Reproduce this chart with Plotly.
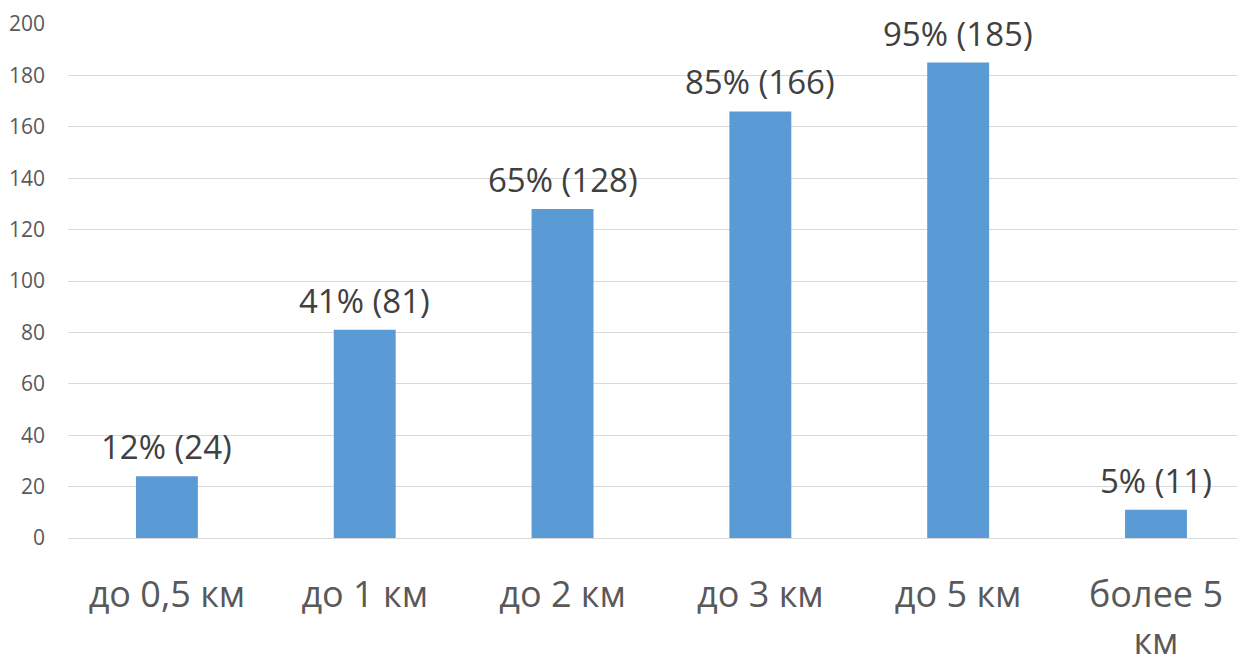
import plotly.graph_objects as go

categories = ["до 0,5 км", "до 1 км", "до 2 км", "до 3 км", "до 5 км", "более 5<br>км"]
values = [24, 81, 128, 166, 185, 11]
percents = ["12%", "41%", "65%", "85%", "95%", "5%"]
labels = [f"{p} ({v})" for p, v in zip(percents, values)]
y_ticks = list(range(0, 201, 20))

fig = go.Figure()
fig.add_trace(go.Bar(
    x=list(range(len(categories))), y=values,
    marker=dict(color="#5B9BD5", line=dict(width=0)),
    width=0.313,
))
for i, (v, t) in enumerate(zip(values, labels)):
    fig.add_annotation(x=i, y=v, text=t, showarrow=False, yanchor="bottom",
                       yshift=5, font=dict(family="Open Sans", size=33, color="#404040"))

fig.update_layout(
    width=1245, height=662,
    margin=dict(l=60, r=8, t=16, b=132),
    plot_bgcolor="white", paper_bgcolor="white",
    showlegend=False,
    xaxis=dict(
        tickmode="array", tickvals=list(range(len(categories))), ticktext=categories,
        range=[-0.5, 5.45], showgrid=False, zeroline=False, showline=False,
        tickfont=dict(family="Open Sans", size=36, color="#595959"),
        ticklabelstandoff=32, automargin=False,
    ),
    yaxis=dict(
        range=[0, 200], tickvals=y_ticks, showgrid=True, gridcolor="#D9D9D9", gridwidth=1.3,
        zeroline=True, zerolinecolor="#D9D9D9", zerolinewidth=1.3, showline=False,
        tickfont=dict(family="Open Sans", size=21, color="#595959"),
        ticklabelstandoff=22, automargin=False,
    ),
)
fig.write_html("out.html")
